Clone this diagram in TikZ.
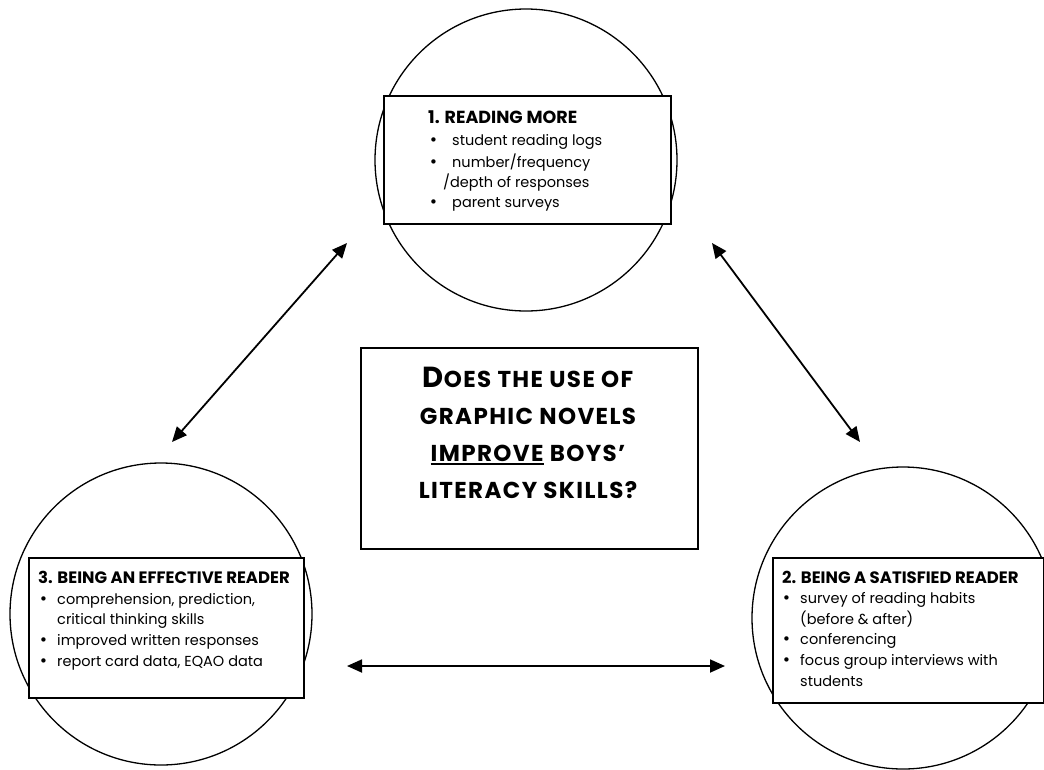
\documentclass[tikz,border=0pt]{standalone}
\usepackage{fontspec}
\setmainfont{Poppins}
\newfontfamily\bulfont{DejaVu Sans}
\usetikzlibrary{arrows.meta}
\newcommand\bigL[1]{{\fontsize{29}{29}\selectfont #1}}
\newcommand\myul[1]{\setbox0\hbox{#1}\rlap{\rule[-4pt]{\wd0}{1.8pt}}\box0\relax}
\newcommand\bul{{\bulfont\fontsize{15}{17}\selectfont •}}
\begin{document}
\begin{tikzpicture}[x=1pt,y=-1pt,
  ring/.style={draw, circle, line width=1.3pt, minimum size=302pt, inner sep=0pt},
  panel/.style={draw, fill=white, line width=1.8pt, anchor=north west, inner sep=0pt},
  hd/.style={anchor=base west, inner sep=0pt, font=\fontsize{16.5}{17}\selectfont\bfseries},
  hdtop/.style={anchor=base west, inner sep=0pt, font=\fontsize{17.5}{17}\selectfont\bfseries},
  tx/.style={anchor=base west, inner sep=0pt, font=\fontsize{14.5}{17}\selectfont},
  ttl/.style={anchor=base, inner sep=0pt, font=\fontsize{23}{24}\selectfont\bfseries\addfontfeatures{LetterSpace=6}},
  link/.style={line width=1.8pt, {Triangle[length=15pt,width=13pt]}-{Triangle[length=15pt,width=13pt]}}
]
\useasboundingbox (0,0) rectangle (1044,769);
\clip (0,0) rectangle (1044,769);
\fill[white] (0,0) rectangle (1044,769);
% circles
\node[ring] (c1) at (526,160) {};
\node[ring] (c3) at (161,614) {};
\node[ring] (c2) at (903,618) {};
% boxes
\node[panel, minimum width=287pt, minimum height=128pt] (b1) at (383,95) {};
\node[panel, minimum width=337pt, minimum height=201pt] (b0) at (360,347) {};
\node[panel, minimum width=275pt, minimum height=140pt] (b3) at (28,557) {};
\node[panel, minimum width=271pt, minimum height=145pt] (b2) at (772,557) {};
% top box text
\node[hdtop] (h1) at (428,123) {1. READING MORE};
\node[tx] (p11) at (429,145) {\bul};
\node[tx] (l11) at (452,145) {student reading logs};
\node[tx] (p12) at (429,167) {\bul};
\node[tx] (l12) at (452,167) {number/frequency};
\node[tx] (l13) at (443,187) {/depth of responses};
\node[tx] (p14) at (429,207) {\bul};
\node[tx] (l14) at (452,207) {parent surveys};
% left box text
\node[hd] (h3) at (38,583) {3. BEING AN EFFECTIVE READER};
\node[tx] (p31) at (39,604) {\bul};
\node[tx] (l31) at (57,604) {comprehension, prediction,};
\node[tx] (l32) at (57,624) {critical thinking skills};
\node[tx] (p33) at (39,645) {\bul};
\node[tx] (l33) at (57,645) {improved written responses};
\node[tx] (p34) at (39,666) {\bul};
\node[tx] (l34) at (57,666) {report card data, EQAO data};
% right box text
\node[hd] (h2) at (782,583) {2. BEING A SATISFIED READER};
\node[tx] (p21) at (782,603) {\bul};
\node[tx] (l21) at (800,603) {survey of reading habits};
\node[tx] (l22) at (800,624) {(before \& after)};
\node[tx] (p23) at (782,644) {\bul};
\node[tx] (l23) at (800,644) {conferencing};
\node[tx] (p24) at (782,665) {\bul};
\node[tx] (l24) at (800,665) {focus group interviews with};
\node[tx] (l25) at (800,686) {students};
% central question
\node[ttl] (q1) at (528,387) {\bigL{D}OES THE USE OF};
\node[ttl] (q2) at (528,424) {GRAPHIC NOVELS};
\node[ttl] (q3) at (528,461) {\myul{IMPROVE} BOYS’};
\node[ttl] (q4) at (528,498) {LITERACY SKILLS?};
% arrow ends
\coordinate (a1s) at (347,243);
\coordinate (a1e) at (172,442);
\coordinate (a2s) at (712,243);
\coordinate (a2e) at (860,442);
\coordinate (a3s) at (347,666);
\coordinate (a3e) at (725,666);
\draw[link] (a1s) -- (a1e);
\draw[link] (a2s) -- (a2e);
\draw[link] (a3s) -- (a3e);
\end{tikzpicture}
\end{document}
